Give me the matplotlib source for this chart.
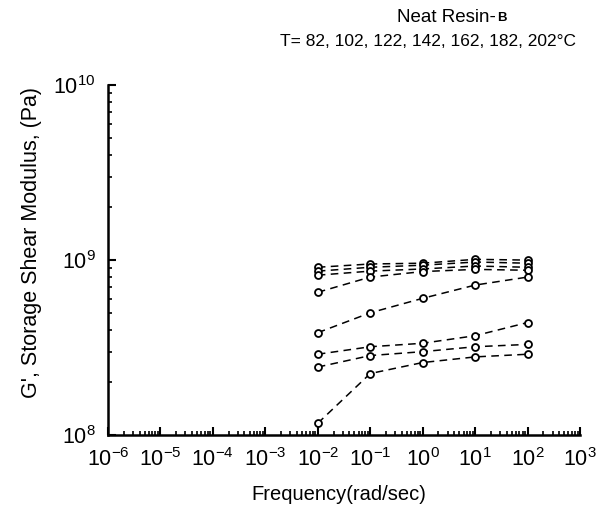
import numpy as np
import matplotlib
matplotlib.use("Agg")
import matplotlib.pyplot as plt
from matplotlib.ticker import LogLocator, NullFormatter

plt.rcParams['font.family'] = ['Liberation Sans', 'DejaVu Sans']
plt.rcParams['mathtext.fontset'] = 'custom'
plt.rcParams['mathtext.rm'] = 'Liberation Sans'
plt.rcParams['mathtext.it'] = 'Liberation Sans'

# frequency (rad/sec)
freq = [1e-2, 1e-1, 1e0, 1e1, 1e2]

# G' (Pa), one curve per run
curve_a = [9.1e8, 9.5e8, 9.6e8, 1.01e9, 1.0e9]
curve_b = [8.65e8, 9.1e8, 9.35e8, 9.75e8, 9.6e8]
curve_c = [8.2e8, 8.65e8, 8.9e8, 9.25e8, 9.1e8]
curve_d = [6.55e8, 8.0e8, 8.6e8, 8.85e8, 8.75e8]
curve_e = [3.85e8, 5.0e8, 6.05e8, 7.2e8, 8.0e8]
curve_f = [2.9e8, 3.2e8, 3.35e8, 3.7e8, 4.4e8]
curve_g = [2.45e8, 2.85e8, 3.0e8, 3.2e8, 3.3e8]
curve_h = [1.17e8, 2.25e8, 2.6e8, 2.8e8, 2.9e8]

curves = [curve_a, curve_b, curve_c, curve_d, curve_e, curve_f, curve_g, curve_h]

fig = plt.figure(figsize=(6.03, 5.12), dpi=100)
ax = fig.add_axes([0.179, 0.150, 0.783, 0.684])

for g in curves:
    ax.plot(freq, g, linestyle=(0, (5, 3.5)), color='black', linewidth=1.1,
            marker='o', markersize=5, markerfacecolor='white',
            markeredgecolor='black', markeredgewidth=1.3)

ax.set_xscale('log')
ax.set_yscale('log')
ax.set_xlim(1e-6, 1e3)
ax.set_ylim(1e8, 1e10)

ax.xaxis.set_major_locator(LogLocator(base=10, numticks=20))
ax.xaxis.set_minor_locator(LogLocator(base=10, subs=np.arange(2, 10), numticks=20))
ax.xaxis.set_minor_formatter(NullFormatter())
ax.yaxis.set_minor_formatter(NullFormatter())

ax.spines['top'].set_visible(False)
ax.spines['right'].set_visible(False)
ax.spines['left'].set_linewidth(1.8)
ax.spines['bottom'].set_linewidth(1.8)

ax.tick_params(which='major', direction='in', length=6, width=1.5,
               labelsize=15.5, pad=9, top=False, right=False)
ax.tick_params(which='minor', direction='in', length=3, width=1.2,
               top=False, right=False)

ax.set_xlabel('Frequency(rad/sec)', fontsize=14.5)
ax.xaxis.set_label_coords(0.49, -0.143)
ax.set_ylabel("G', Storage Shear Modulus, (Pa)", fontsize=15.5)
ax.yaxis.set_label_coords(-0.14, 0.55)

fig.text(0.823, 0.966, 'Neat Resin-', fontsize=13.5, ha='right', va='center')
fig.text(0.824, 0.964, 'B', fontsize=9.5, ha='left', va='center',
         fontweight='bold')
fig.text(0.71, 0.918, 'T= 82, 102, 122, 142, 162, 182, 202°C', fontsize=12.5,
         ha='center', va='center')

fig.savefig('out.png', dpi=100)
